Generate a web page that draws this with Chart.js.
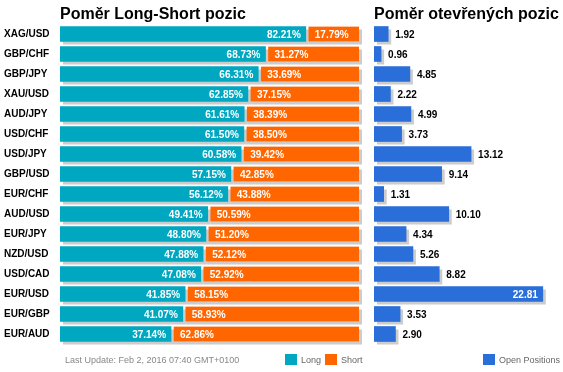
<!DOCTYPE html>
<html>
<head>
<meta charset="utf-8">
<script src="https://cdn.jsdelivr.net/npm/chart.js@4/dist/chart.umd.min.js"></script>
<style>
  html, body { margin: 0; padding: 0; background: #fff; }
  #wrap { position: relative; width: 563px; height: 372px; overflow: hidden; }
  #ratio-chart { position: absolute; left: 0; top: 0; }
  #open-chart { position: absolute; left: 370px; top: 0; }
</style>
</head>
<body>
<div id="wrap">
  <canvas id="ratio-chart" width="370" height="372"></canvas>
  <canvas id="open-chart" width="193" height="372"></canvas>
</div>
<script>
  const pairs = ['XAG/USD', 'GBP/CHF', 'GBP/JPY', 'XAU/USD', 'AUD/JPY', 'USD/CHF', 'USD/JPY', 'GBP/USD',
    'EUR/CHF', 'AUD/USD', 'EUR/JPY', 'NZD/USD', 'USD/CAD', 'EUR/USD', 'EUR/GBP', 'EUR/AUD'];
  const longPct = [82.21, 68.73, 66.31, 62.85, 61.61, 61.50, 60.58, 57.15, 56.12, 49.41, 48.80, 47.88, 47.08, 41.85, 41.07, 37.14];
  const shortPct = [17.79, 31.27, 33.69, 37.15, 38.39, 38.50, 39.42, 42.85, 43.88, 50.59, 51.20, 52.12, 52.92, 58.15, 58.93, 62.86];
  const openPositions = [1.92, 0.96, 4.85, 2.22, 4.99, 3.73, 13.12, 9.14, 1.31, 10.10, 4.34, 5.26, 8.82, 22.81, 3.53, 2.90];
  const ratioTitle = 'Poměr Long-Short pozic';
  const openTitle = 'Poměr otevřených pozic';
  const lastUpdate = 'Last Update: Feb 2, 2016 07:40 GMT+0100';

  const FONT = '"Liberation Sans", Arial, sans-serif';
  const LONG_COLOR = '#00a7c0';
  const SHORT_COLOR = '#ff6600';
  const OPEN_COLOR = '#2a6fd9';

  // grey drop shadow behind every bar, offset 3px right/down
  const shadowPlugin = {
    id: 'barShadow',
    beforeDatasetsDraw(chart) {
      const ctx = chart.ctx;
      ctx.save();
      ctx.fillStyle = '#cccccc';
      chart.data.datasets.forEach((ds, i) => {
        chart.getDatasetMeta(i).data.forEach((bar) => {
          const p = bar.getProps(['x', 'y', 'base', 'height'], true);
          ctx.fillRect(Math.min(p.x, p.base) + 3, p.y - p.height / 2 + 3, Math.abs(p.x - p.base), p.height);
        });
      });
      ctx.restore();
    }
  };

  // title above the plot + legend boxes along the bottom
  const decorPlugin = {
    id: 'decor',
    afterDraw(chart, args, opts) {
      const ctx = chart.ctx;
      ctx.save();
      ctx.fillStyle = '#000';
      ctx.font = 'bold 16px ' + FONT;
      ctx.textAlign = 'left';
      ctx.textBaseline = 'alphabetic';
      ctx.fillText(opts.title, chart.chartArea.left, 19);

      ctx.font = '9px ' + FONT;
      if (opts.footer) {
        ctx.fillStyle = '#888';
        ctx.fillText(opts.footer, 65, 363);
      }
      chart.data.datasets.forEach((ds, i) => {
        const x = opts.legendX[i];
        ctx.fillStyle = ds.backgroundColor;
        ctx.fillRect(x, 354, 12, 11);
        ctx.fillStyle = '#666';
        ctx.fillText(ds.label, x + 16, 363);
      });
      ctx.restore();
    }
  };

  // percentage labels inside the long/short bars
  const ratioLabels = {
    id: 'ratioLabels',
    afterDatasetsDraw(chart) {
      const ctx = chart.ctx;
      ctx.save();
      ctx.font = 'bold 10px ' + FONT;
      ctx.fillStyle = '#fff';
      ctx.textBaseline = 'middle';
      chart.getDatasetMeta(0).data.forEach((bar, j) => {
        ctx.textAlign = 'right';
        ctx.fillText(longPct[j].toFixed(2) + '%', bar.x - 5, bar.y + 1);
      });
      chart.getDatasetMeta(1).data.forEach((bar, j) => {
        ctx.textAlign = 'left';
        ctx.fillText(shortPct[j].toFixed(2) + '%', bar.base + 9, bar.y + 1);
      });
      ctx.restore();
    }
  };

  const openLabels = {
    id: 'openLabels',
    afterDatasetsDraw(chart) {
      const ctx = chart.ctx;
      ctx.save();
      ctx.font = 'bold 10px ' + FONT;
      ctx.textBaseline = 'middle';
      chart.getDatasetMeta(0).data.forEach((bar, j) => {
        const text = openPositions[j].toFixed(2);
        const w = ctx.measureText(text).width;
        if (bar.x + 7 + w > chart.chartArea.right) {
          ctx.fillStyle = '#fff';
          ctx.textAlign = 'right';
          ctx.fillText(text, bar.x - 5, bar.y + 1);
        } else {
          ctx.fillStyle = '#000';
          ctx.textAlign = 'left';
          ctx.fillText(text, bar.x + 7, bar.y + 1);
        }
      });
      ctx.restore();
    }
  };

  new Chart(document.getElementById('ratio-chart'), {
    type: 'bar',
    data: {
      labels: pairs,
      datasets: [{
        label: 'Long',
        data: longPct,
        backgroundColor: LONG_COLOR,
        borderWidth: 0,
        barThickness: 15
      }, {
        label: 'Short',
        data: shortPct,
        backgroundColor: SHORT_COLOR,
        borderColor: 'rgba(0,0,0,0)',
        borderWidth: { left: 3, right: 0, top: 0, bottom: 0 },
        borderSkipped: false,
        barThickness: 15
      }]
    },
    options: {
      responsive: false,
      animation: false,
      indexAxis: 'y',
      layout: { padding: { left: 4, right: 11, top: 24, bottom: 28 } },
      scales: {
        x: { display: false, stacked: true, min: 0, max: 100 },
        y: {
          stacked: true,
          grid: { display: false },
          border: { display: false },
          ticks: { color: '#000', font: { family: FONT, size: 10, weight: 'bold' }, crossAlign: 'far', padding: 0 },
          afterFit(scale) { scale.width = 56; }
        }
      },
      plugins: {
        legend: { display: false },
        tooltip: { enabled: false },
        decor: { title: ratioTitle, footer: lastUpdate, legendX: [285, 325] }
      }
    },
    plugins: [shadowPlugin, ratioLabels, decorPlugin]
  });

  new Chart(document.getElementById('open-chart'), {
    type: 'bar',
    data: {
      labels: pairs,
      datasets: [{
        label: 'Open Positions',
        data: openPositions,
        backgroundColor: OPEN_COLOR,
        borderWidth: 0,
        barThickness: 15
      }]
    },
    options: {
      responsive: false,
      animation: false,
      indexAxis: 'y',
      layout: { padding: { left: 4, right: 4, top: 24, bottom: 28 } },
      scales: {
        x: { display: false, min: 0, max: 25 },
        y: { display: false }
      },
      plugins: {
        legend: { display: false },
        tooltip: { enabled: false },
        decor: { title: openTitle, legendX: [113] }
      }
    },
    plugins: [shadowPlugin, openLabels, decorPlugin]
  });
</script>
</body>
</html>
